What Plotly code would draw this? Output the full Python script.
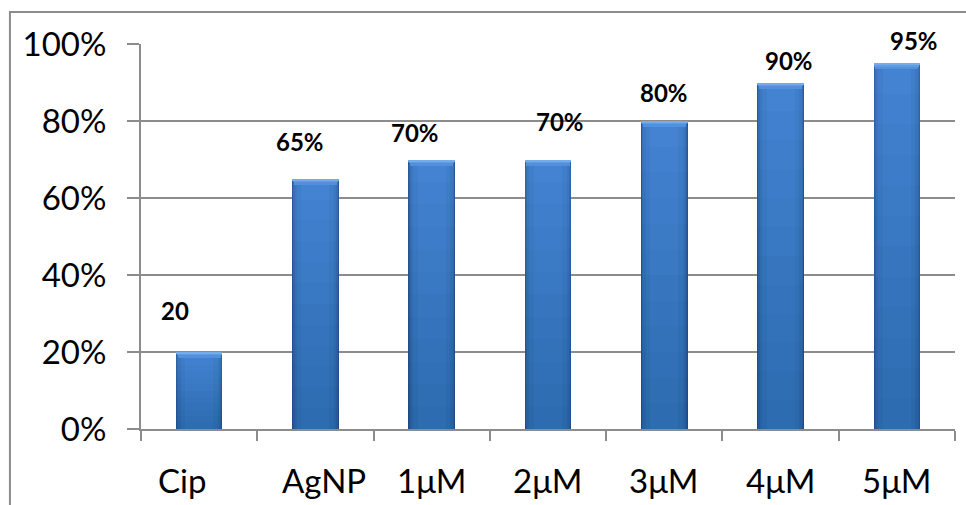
import plotly.graph_objects as go

# Data
categories = ["Cip", "AgNP", "1μM", "2μM", "3μM", "4μM", "5μM"]
values = [0.20, 0.65, 0.70, 0.70, 0.80, 0.90, 0.95]
value_labels = ["20", "65%", "70%", "70%", "80%", "90%", "95%"]

# Hand-placed label nudges (pixels): horizontal shift, height above bar top
label_dx = [-24, -15, -17, 12, 0, 8, 17]
label_dy = [42, 37, 27, 38, 29, 22, 23]
# Horizontal nudges for the category names under the axis
cat_dx = [-17, 9, 0, 0, 0, 0, 0]

GRID = "#8C8C8C"
FONT = "Lato, 'Open Sans', sans-serif"

fig = go.Figure()

# Bars built from overlaid layers: dark edges fading to a lighter middle
layers = [
    (0.40, "#2B5A96"),
    (0.39, "#3264A6"),
    (0.38, "#386EB5"),
    (0.36, "#3C77C1"),
    (0.32, "#407ECA"),
    (0.24, "#4383D1"),
]
for w, c in layers:
    fig.add_trace(go.Bar(
        x=categories, y=values, width=w,
        marker=dict(color=c, line=dict(width=0)),
        hoverinfo="skip", showlegend=False,
    ))

# Soft shading that deepens toward the bottom of each bar
steps = 12
for k in range(1, steps):
    fig.add_trace(go.Bar(
        x=categories, y=[v * k / steps for v in values], width=0.40,
        marker=dict(color="rgba(20,40,90,0.025)", line=dict(width=0)),
        hoverinfo="skip", showlegend=False,
    ))

# Light bevel along each bar top
bevel = [(0.37, 0.016, "#5390DB"), (0.385, 0.009, "#609CE2"), (0.40, 0.004, "#74ABEB")]
for w, h, c in bevel:
    fig.add_trace(go.Bar(
        x=categories, y=[h] * len(values),
        base=[v - h for v in values], width=w,
        marker=dict(color=c, line=dict(width=0)),
        hoverinfo="skip", showlegend=False,
    ))

# Value labels above the bars
for cat, v, txt, dx, dy in zip(categories, values, value_labels, label_dx, label_dy):
    fig.add_annotation(
        x=cat, y=v, text=f"<b>{txt}</b>", showarrow=False,
        xanchor="center", yanchor="middle", xshift=dx, yshift=dy,
        font=dict(family=FONT, size=24, color="#000000"),
    )

# Category names below the axis
for cat, dx in zip(categories, cat_dx):
    fig.add_annotation(
        x=cat, y=0, text=cat, showarrow=False,
        xanchor="center", yanchor="middle", xshift=dx, yshift=-51,
        font=dict(family=FONT, size=33, color="#000000"),
    )

# Outer chart frame
fig.add_shape(
    type="rect", xref="paper", yref="paper",
    x0=-0.161, x1=1.08, y0=-0.25, y1=1.083,
    line=dict(color=GRID, width=2), fillcolor="rgba(0,0,0,0)", layer="below",
)

fig.update_layout(
    width=966, height=505,
    margin=dict(l=141, r=11, t=44, b=76),
    paper_bgcolor="white", plot_bgcolor="white",
    barmode="overlay", bargap=0,
    font=dict(family=FONT, color="#000000"),
    showlegend=False,
)

fig.update_xaxes(
    type="category",
    showline=True, linecolor=GRID, linewidth=2,
    ticks="outside", tickson="boundaries", ticklen=10,
    tickcolor=GRID, tickwidth=2,
    showgrid=False, showticklabels=False,
)
fig.update_yaxes(
    range=[0, 1], dtick=0.2, tickformat=".0%",
    showline=True, linecolor=GRID, linewidth=2,
    ticks="outside", ticklen=12, tickcolor=GRID, tickwidth=2,
    showgrid=True, gridcolor=GRID, gridwidth=2,
    zeroline=False,
    tickfont=dict(family=FONT, size=33, color="#000000"),
    ticklabelstandoff=14,
)

fig.write_html("out.html")
